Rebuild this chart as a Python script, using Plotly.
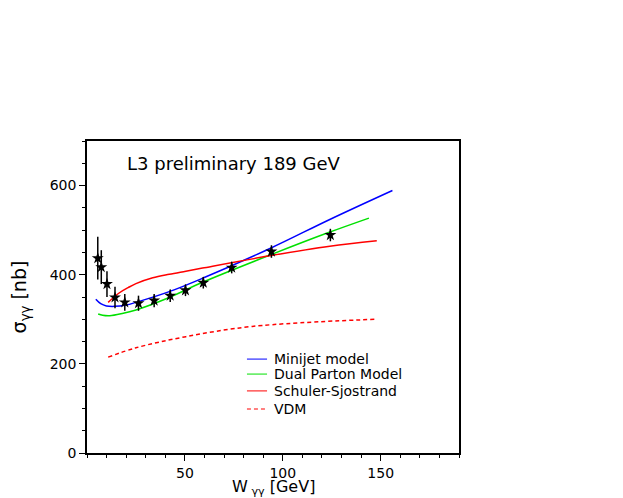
import plotly.graph_objects as go

# L3 data points (W_gg [GeV], sigma_gg [nb], error)
w_data = [5.5, 7.3, 10.2, 14.3, 19.3, 26.3, 34.3, 42.5, 50.3, 59.4, 73.9, 94.2, 124.3]
sig_data = [437, 417, 379, 349, 338, 336, 342, 353, 365, 382, 416, 452, 489]
sig_err = [48, 38, 29, 24, 19, 17, 15, 14, 13, 13, 13, 14, 14]

# model curves
minijet_w = [4.5, 7, 9.9, 14, 20, 25, 42, 59, 94, 124, 156]
minijet_sig = [345, 335, 330, 329, 332, 338, 362, 392, 460, 524, 589]

dpm_w = [5.7, 8, 11.6, 18, 25, 42, 59, 94, 123, 144]
dpm_sig = [312, 309, 308, 313, 321, 349, 383, 445, 494, 527]

sas_w = [10.8, 16.4, 21, 25, 33.6, 42, 50.5, 59, 94, 124, 148]
sas_sig = [338, 359, 371, 380, 393, 401, 408, 415, 443, 464, 476]

vdm_w = [10.8, 25, 50.5, 84.4, 147]
vdm_sig = [215, 236, 261, 284, 300]

models = [
    ("Minijet model", minijet_w, minijet_sig, "#0000ff", "solid"),
    ("Dual Parton Model", dpm_w, dpm_sig, "#00e000", "solid"),
    ("Schuler-Sjostrand", sas_w, sas_sig, "#ff0000", "solid"),
    ("VDM", vdm_w, vdm_sig, "#ff0000", "4px,3px"),
]

FONT = "DejaVu Sans, Verdana, sans-serif"

fig = go.Figure()

for name, xs, ys, col, dash in models:
    fig.add_trace(go.Scatter(x=xs, y=ys, mode="lines", name=name,
                             line=dict(color=col, width=1.5, dash=dash, shape="spline")))

fig.add_trace(go.Scatter(
    x=w_data, y=sig_data, mode="markers",
    marker=dict(symbol="star", size=9, color="black"),
    error_y=dict(type="data", array=sig_err, color="black", thickness=1.5, width=0),
))

fig.add_annotation(x=0.102, y=0.929, xref="paper", yref="paper", xanchor="left", yanchor="middle",
                   text="L3 preliminary 189 GeV", showarrow=False,
                   font=dict(size=18, color="black"))

# x axis title placed by hand so it sits just under the tick labels
fig.add_annotation(x=0.5, y=-0.071, xref="paper", yref="paper", xanchor="center", yanchor="top",
                   text="W<sub> γγ</sub> [GeV]", showarrow=False,
                   font=dict(size=16, color="black"))

# hand-drawn legend (tighter rows than plotly's built-in legend)
leg_y = [0.301, 0.253, 0.199, 0.141]
for (name, xs, ys, col, dash), ly in zip(models, leg_y):
    fig.add_shape(type="line", xref="paper", yref="paper", x0=0.430, x1=0.484, y0=ly, y1=ly,
                  line=dict(color=col, width=1, dash=dash))
    fig.add_annotation(x=0.497, y=ly, xref="paper", yref="paper", xanchor="left", yanchor="middle",
                       text=name, showarrow=False, font=dict(size=14, color="black"))

# page body adds an 8px offset, so margins are shifted accordingly
fig.update_layout(
    width=623, height=498,
    margin=dict(l=79, r=172, t=133, b=53),
    plot_bgcolor="white", paper_bgcolor="white",
    font=dict(family=FONT, color="black", size=14),
    showlegend=False,
)

fig.update_xaxes(
    range=[0, 190], showline=True, linecolor="black", linewidth=1.5, mirror=True,
    showgrid=False, zeroline=False, automargin=False,
    tickvals=[50, 100, 150], ticks="outside", ticklen=6, tickcolor="black",
    minor=dict(dtick=10, tick0=0, ticks="outside", ticklen=3, tickcolor="black"),
)
fig.update_yaxes(
    range=[0, 700], showline=True, linecolor="black", linewidth=1.5, mirror=True,
    showgrid=False, zeroline=False, automargin=False,
    tickvals=[0, 200, 400, 600], ticks="outside", ticklen=6, tickcolor="black",
    minor=dict(dtick=50, tick0=0, ticks="outside", ticklen=3, tickcolor="black"),
    title=dict(text="σ<sub>γγ</sub> [nb]", font=dict(size=19), standoff=18),
)

fig.write_html("out.html")
